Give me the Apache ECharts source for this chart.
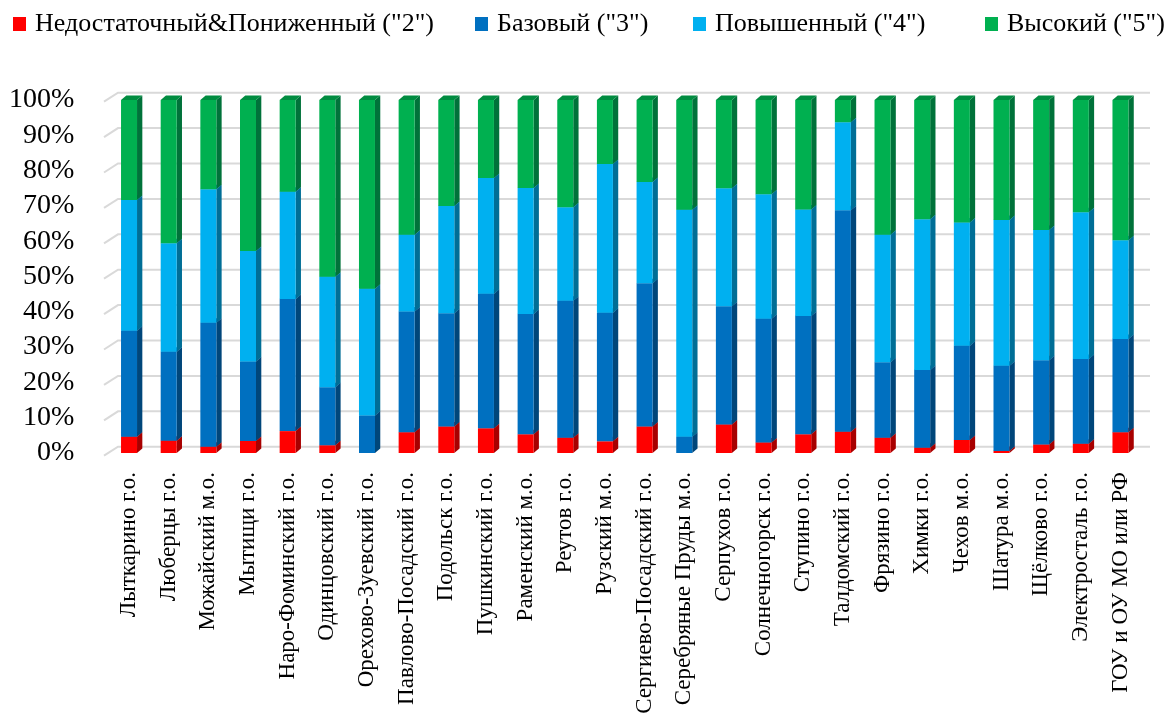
<!DOCTYPE html>
<html><head><meta charset="utf-8">
<script src="https://cdn.jsdelivr.net/npm/echarts@6/dist/echarts.min.js"></script>
<style>html,body{margin:0;padding:0;background:#fff}#c{width:1169px;height:724px}</style>
</head><body><div id="c"></div>
<script>
const categories = ["Лыткарино г.о.","Люберцы г.о.","Можайский м.о.","Мытищи г.о.","Наро-Фоминский г.о.","Одинцовский г.о.","Орехово-Зуевский г.о.","Павлово-Посадский г.о.","Подольск г.о.","Пушкинский г.о.","Раменский м.о.","Реутов г.о.","Рузский м.о.","Сергиево-Посадский г.о.","Серебряные Пруды м.о.","Серпухов г.о.","Солнечногорск г.о.","Ступино г.о.","Талдомский г.о.","Фрязино г.о.","Химки г.о.","Чехов м.о.","Шатура м.о.","Щёлково г.о.","Электросталь г.о.","ГОУ и ОУ МО или РФ"];
const seriesNames = ['Недостаточный&Пониженный ("2")','Базовый ("3")','Повышенный ("4")','Высокий ("5")'];
const level2 = [4.6,3.5,1.8,3.4,6.2,2.2,0,5.9,7.5,7.0,5.3,4.3,3.3,7.5,0,8.1,3.0,5.3,6.0,4.3,1.5,3.7,0.6,2.4,2.6,5.9];
const level3 = [30.0,25.2,35.1,22.5,37.4,16.4,10.6,34.2,32.1,38.1,34.1,38.8,36.4,40.6,4.6,33.5,35.0,33.5,62.8,21.4,22.0,26.7,24.1,23.9,24.0,26.4];
const level4 = [37.1,30.7,37.8,31.3,30.4,31.3,35.9,21.7,30.4,32.8,35.7,26.5,42.2,28.7,64.3,33.4,35.3,30.2,24.9,36.1,42.7,34.9,41.3,36.9,41.6,28.0];
const level5 = [28.3,40.6,25.3,42.8,26.0,50.1,53.5,38.2,30.0,22.1,24.9,30.4,18.1,23.2,31.1,25.0,26.7,31.0,6.3,38.2,33.8,34.7,34.0,36.8,31.8,39.7];
const yTicks = [0,10,20,30,40,50,60,70,80,90,100];

const levels = [level2, level3, level4, level5];
const colors = [
  {front:'#FF0000', side:'#A80000', top:'#C80000'},
  {front:'#0070C0', side:'#00467A', top:'#005A9E'},
  {front:'#00B0F0', side:'#006E96', top:'#0090C8'},
  {front:'#00B050', side:'#00723A', top:'#008C40'}
];
const FONT = '"Liberation Serif","Times New Roman",serif';
const legendLeft = [13, 475, 693, 985];

function seriesData(si){
  return categories.map((c,i)=>{
    let base=0; for(let k=0;k<si;k++) base+=levels[k][i];
    return [i, levels[si][i], base];
  });
}
function barRender(si){
  const col = colors[si];
  return function(params, api){
    const i = api.value(0), v = api.value(1), b = api.value(2);
    if(!(v>0)) return null;
    const p0 = api.coord([i,b]), p1 = api.coord([i,b+v]);
    const w = 16, dx = 5.3, dy = 4.5;
    const l = p0[0]-w/2, r = p0[0]+w/2, yb = p0[1], yt = p1[1];
    return {type:'group', children:[
      {type:'polygon', shape:{points:[[r,yb],[r+dx,yb-dy],[r+dx,yt-dy],[r,yt]]}, style:{fill:col.side}},
      {type:'polygon', shape:{points:[[l,yt],[l+dx,yt-dy],[r+dx,yt-dy],[r,yt]]}, style:{fill:col.top}},
      {type:'rect', shape:{x:l,y:yt,width:w,height:yb-yt}, style:{fill:col.front}}
    ]};
  };
}

const series = [{
  type:'custom', xAxisIndex:1, yAxisIndex:1, silent:true, z:1,
  data: yTicks.map(v=>[0,v]),
  renderItem:function(params, api){
    const a = api.coord([0, api.value(1)]), e = api.coord([1, api.value(1)]);
    return {type:'polyline', shape:{points:[[a[0]-14,a[1]+9],a,e]}, style:{stroke:'#D9D9D9', lineWidth:2, fill:null}};
  }
}];
seriesNames.forEach((n,si)=>{
  series.push({type:'custom', name:n, xAxisIndex:0, yAxisIndex:0, z:2+si,
    itemStyle:{color:colors[si].front}, data:seriesData(si), renderItem:barRender(si)});
});

const legends = seriesNames.map((n,si)=>({
  left:legendLeft[si], top:11, itemWidth:13, itemHeight:14, icon:'rect', padding:0,
  textStyle:{fontFamily:FONT, fontSize:26, color:'#000', padding:[0,0,0,4]},
  data:[n]
}));

const chart = echarts.init(document.getElementById('c'), null, {renderer:'canvas'});
chart.setOption({
  animation:false,
  backgroundColor:'#fff',
  legend:legends,
  grid:[
    {left:109.2, right:28.7, top:100, height:353, containLabel:false, outerBoundsMode:'none'},
    {left:118, right:19, top:92.7, height:354, containLabel:false, outerBoundsMode:'none'}
  ],
  xAxis:[
    {type:'category', gridIndex:0, data:categories, axisLine:{show:false}, axisTick:{show:false},
     axisLabel:{rotate:90, interval:0, margin:19, fontFamily:FONT, fontSize:23, color:'#000'}},
    {type:'value', gridIndex:1, min:0, max:1, show:false}
  ],
  yAxis:[
    {type:'value', gridIndex:0, min:0, max:100, interval:10, axisLine:{show:false}, axisTick:{show:false}, splitLine:{show:false},
     axisLabel:{formatter:'{value}%', margin:35, fontFamily:FONT, fontSize:28, color:'#000', padding:[11,0,0,0]}},
    {type:'value', gridIndex:1, min:0, max:100, interval:10, show:false, splitLine:{show:false}}
  ],
  series:series
});
</script></body></html>
